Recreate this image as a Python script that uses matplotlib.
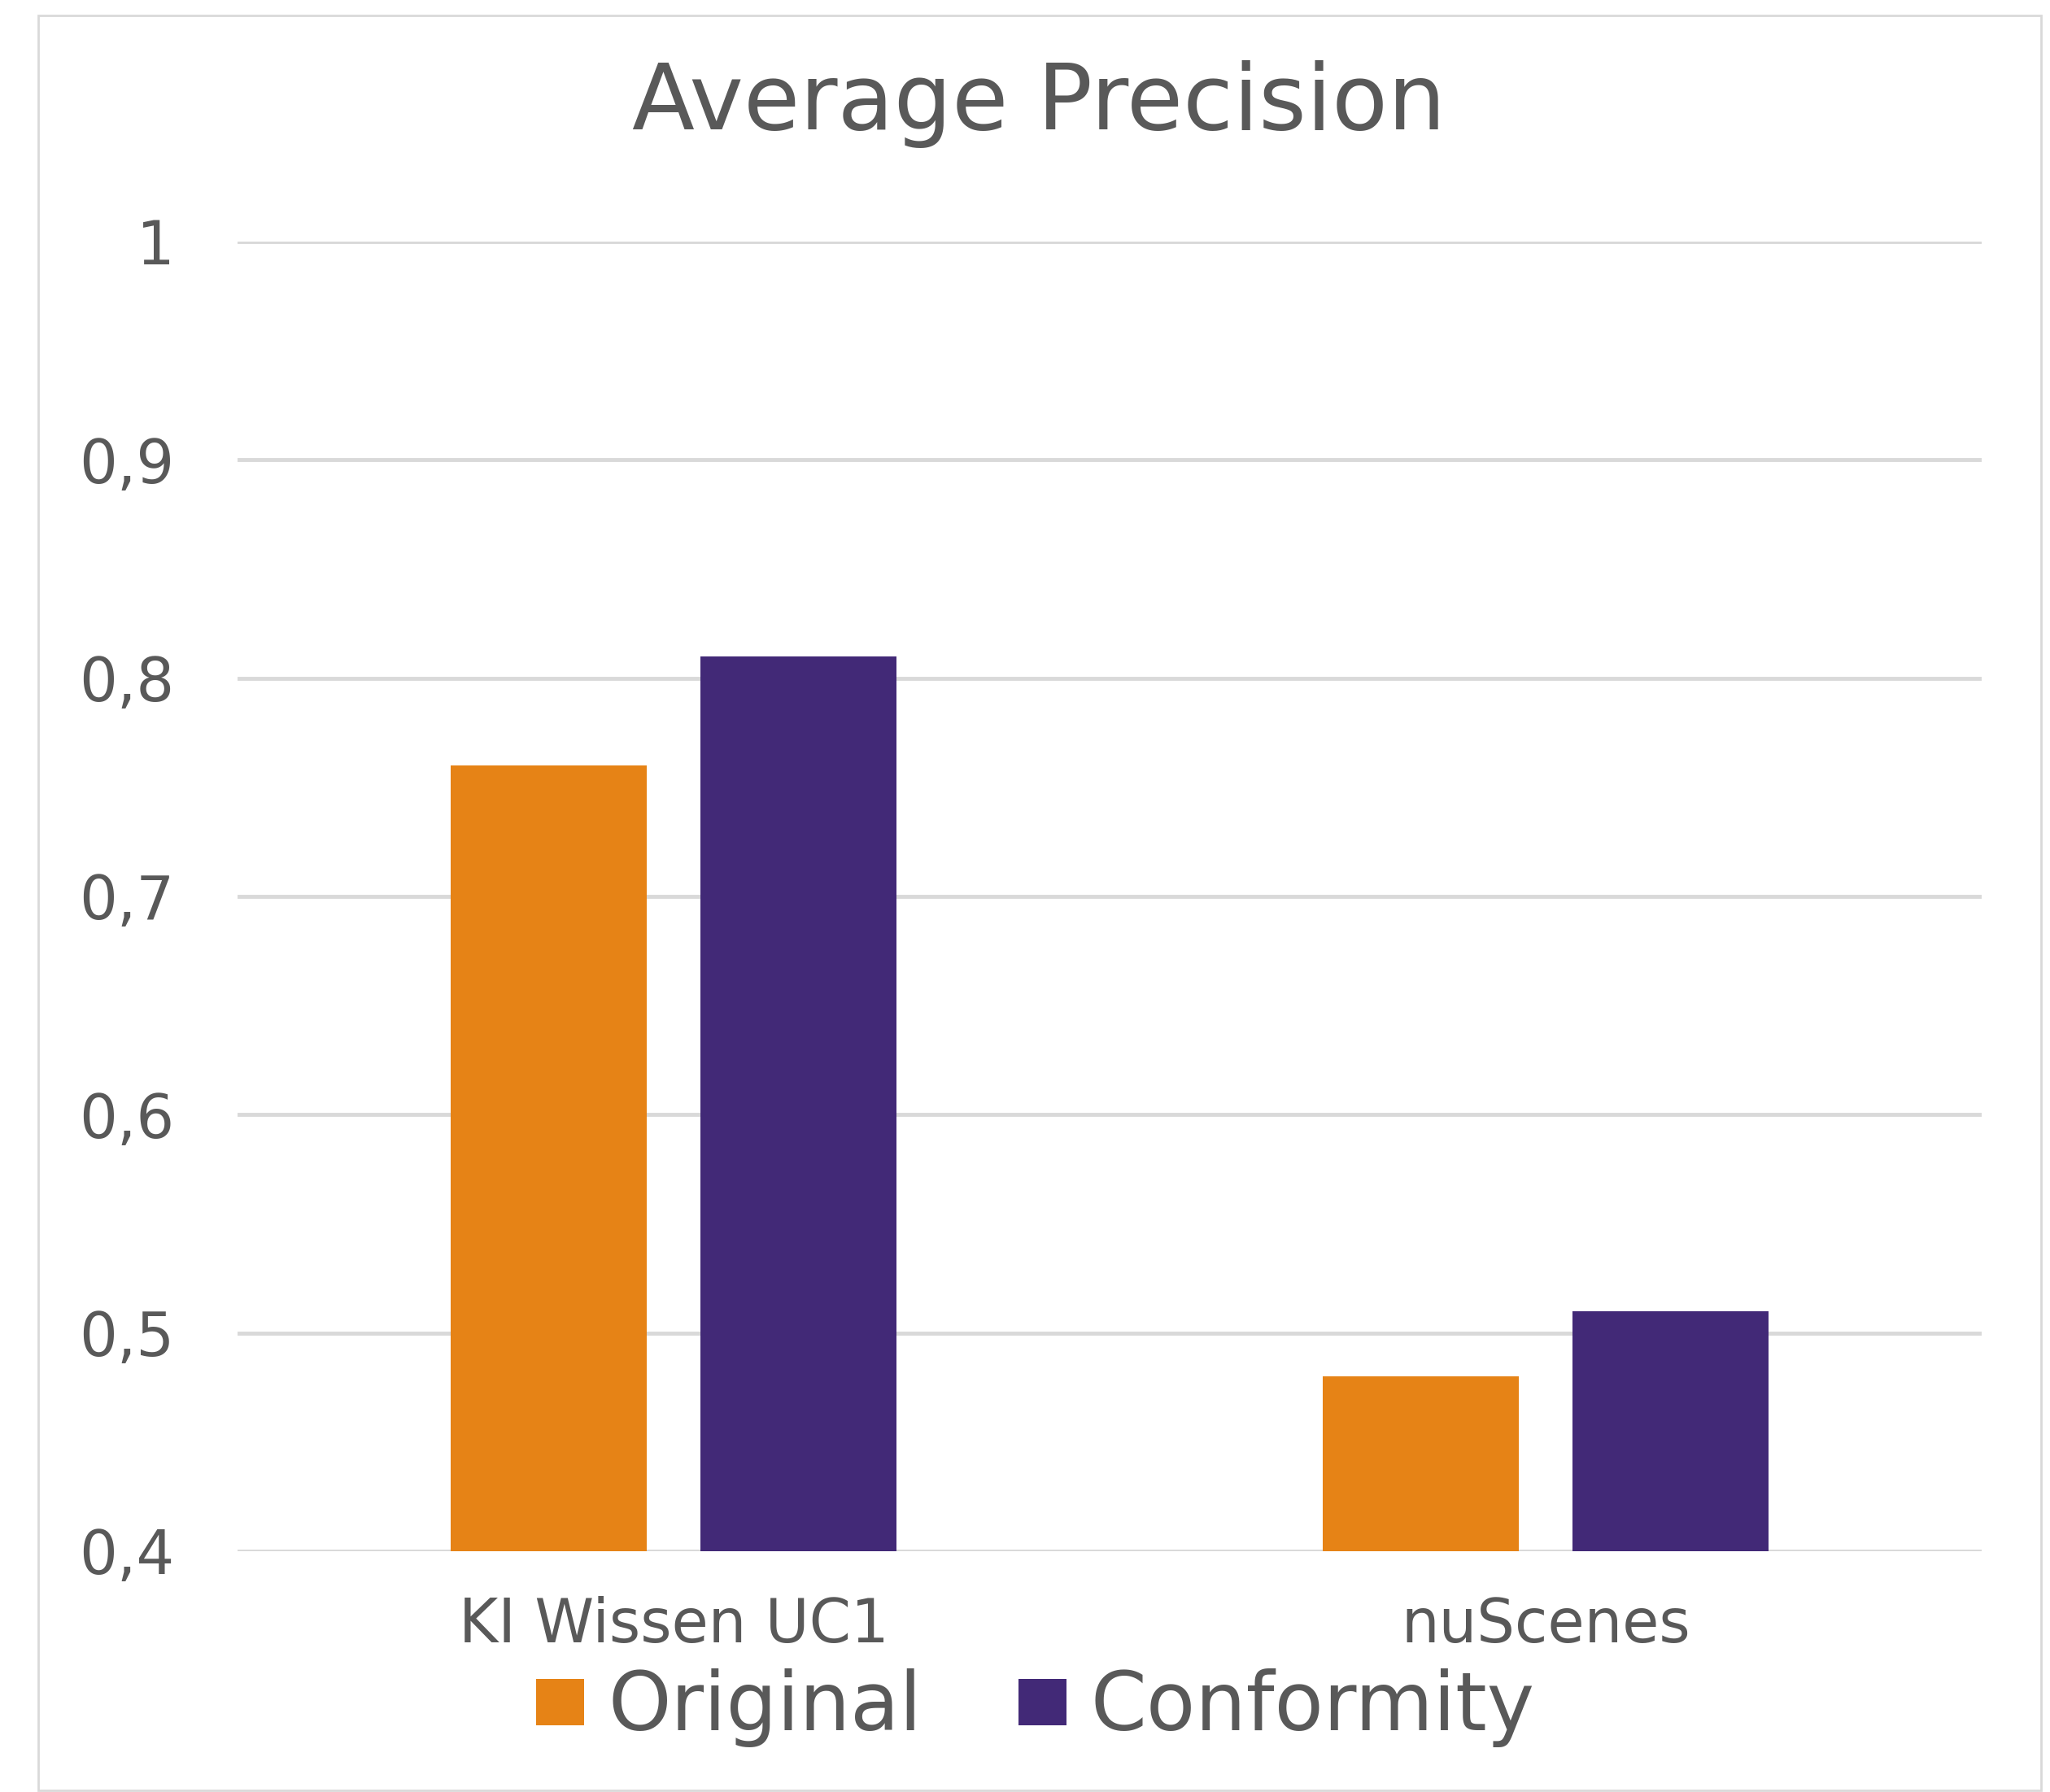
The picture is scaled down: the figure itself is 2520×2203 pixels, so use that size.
import matplotlib
matplotlib.use("Agg")
import matplotlib.pyplot as plt
from matplotlib.patches import Rectangle
from matplotlib.ticker import FuncFormatter
import numpy as np

# --- DATA ---
categories = ["KI Wissen UC1", "nuScenes"]
series_names = ["Original", "Conformity"]
original_vals = [0.76, 0.48]
conformity_vals = [0.81, 0.51]
y_ticks = [0.4, 0.5, 0.6, 0.7, 0.8, 0.9, 1.0]

# --- STYLE ---
ORANGE = "#E68316"
PURPLE = "#422977"
TEXT = "#595959"
GRID = "#D9D9D9"

plt.rcParams['font.family'] = ['DejaVu Sans']

fig = plt.figure(figsize=(25.2, 22.03), dpi=100)
ax = fig.add_axes([0.1159, 0.1344, 0.8508, 0.7308])

x = np.arange(len(categories))
bar_w = 0.225
off = 0.143
b1 = ax.bar(x - off, original_vals, bar_w, color=ORANGE, label=series_names[0], zorder=3)
b2 = ax.bar(x + off, conformity_vals, bar_w, color=PURPLE, label=series_names[1], zorder=3)

ax.set_xlim(-0.5, len(categories) - 0.5)
ax.set_ylim(0.4, 1.0)
ax.set_yticks(y_ticks)
ax.yaxis.set_major_formatter(FuncFormatter(lambda v, p: f"{v:g}".replace(".", ",")))
ax.set_xticks(x)
ax.set_xticklabels(categories)

ax.grid(axis="y", color=GRID, linewidth=3.5, zorder=0)
ax.tick_params(axis="both", length=0, colors=TEXT, labelsize=53)
ax.tick_params(axis="y", pad=56)
ax.tick_params(axis="x", pad=40)
for s in ax.spines.values():
    s.set_visible(False)

fig.text(0.5067, 1 - 128 / 2203, "Average Precision", ha="center", va="center",
         fontsize=81, color=TEXT)

leg = fig.legend(handles=[b1, b2], loc="center", bbox_to_anchor=(1273 / 2520, 1 - 2100 / 2203),
                 ncol=2, frameon=False, fontsize=71, handlelength=0.6, handleheight=0.5,
                 handletextpad=0.3, columnspacing=1.2, borderaxespad=0)
for t in leg.get_texts():
    t.set_color(TEXT)

# outer chart border
fig.patches.append(Rectangle((47 / 2520, 1 - 2201 / 2203), 2462 / 2520, 2182 / 2203,
                             transform=fig.transFigure, fill=False, edgecolor=GRID, linewidth=2))

fig.savefig("out.png", dpi=100, facecolor="white")
